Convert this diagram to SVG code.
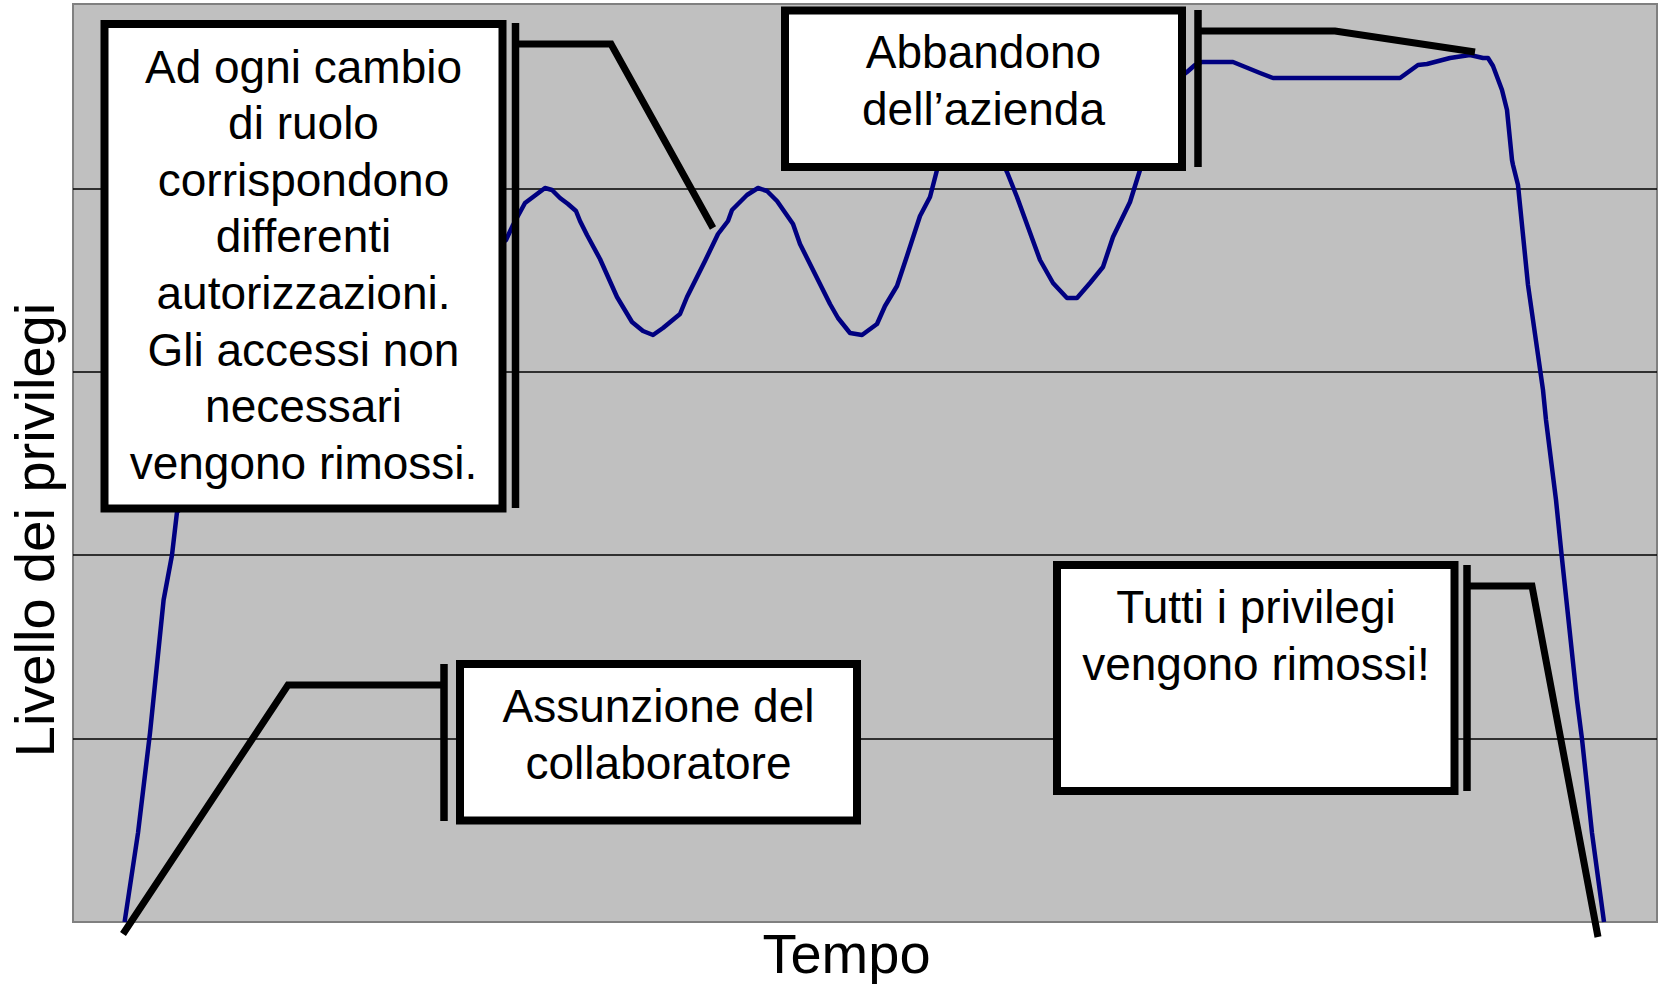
<svg xmlns="http://www.w3.org/2000/svg" width="1663" height="984" viewBox="0 0 1663 984">
<style>
.lbl{font-family:"Liberation Sans",Arial,sans-serif;font-size:46px;fill:#000;text-anchor:middle}
.axis{font-family:"Liberation Sans",Arial,sans-serif;font-size:56px;fill:#000;text-anchor:middle}
.box{fill:#fff;stroke:#000;stroke-width:8}
.bar{stroke:#000;stroke-width:7.5;fill:none}
.lead{stroke:#000;stroke-width:7;fill:none;stroke-linejoin:miter}
.grid{stroke:#000;stroke-width:1.5}
.curve{fill:none;stroke:#000080;stroke-width:4.5;stroke-linejoin:round}
</style>
<rect width="1663" height="984" fill="#fff"/>
<g id="plot">
<rect x="73" y="4" width="1584" height="918" fill="#c0c0c0" stroke="#808080" stroke-width="2"/>
<line class="grid" x1="73" y1="189" x2="1657" y2="189"/>
<line class="grid" x1="73" y1="372" x2="1657" y2="372"/>
<line class="grid" x1="73" y1="555" x2="1657" y2="555"/>
<line class="grid" x1="73" y1="739" x2="1657" y2="739"/>
<polyline class="curve" stroke-width="3" points="124.6,922 138,833 150,733 163.6,600 172,555 177,512 300,400"/>
<polyline class="curve" points="300,400 506,240 513,225 525,203 533,197 545,188 552,190 560,198 568,204 576,211 580,221 587,235 600,259 617,297 632,322 643,331 653,335 663,328 680,314 687,297 705,261 718,234 728,221 732,210 747,195 758,188 767,191 777,201 793,224 800,244 813,270 830,304 838,318 850,333 862,335 877,324 885,306 897,286 907,256 920,216 930,197 937,170 970,90 1007,172 1017,197 1040,260 1053,283 1067,298 1077,298 1090,283 1103,267 1113,237 1130,202 1140,170 1170,85 1187,72 1195,65 1202,62 1233,62 1260,73 1273,78 1400,78 1418,65 1427,64 1450,58 1470,55 1483,58 1488,58 1493,66 1502,90 1507,110 1512,160 1513,165 1518,185 1528,285 1543,390 1546,420 1556,500 1561.5,554 1577,700 1582,739 1592,833 1604,922"/>
</g>
<g id="axes">
<text class="axis" x="846.5" y="973" font-size="55">Tempo</text>
<text class="axis" transform="translate(54,530) rotate(-90)" x="0" y="0">Livello dei privilegi</text>
</g>
<g id="connectors">
<polyline class="lead" points="123,934 288,685 444,685"/>
<line class="bar" x1="444" y1="664" x2="444" y2="821"/>
<polyline class="lead" points="515.5,44 611,44 713,228"/>
<line class="bar" x1="515.5" y1="23" x2="515.5" y2="508"/>
<polyline class="lead" points="1198,31 1335,31 1475,52"/>
<line class="bar" x1="1198" y1="10" x2="1198" y2="167"/>
<polyline class="lead" points="1467,586 1532,586 1598,937"/>
<line class="bar" x1="1467" y1="565" x2="1467" y2="791"/>
</g>
<g id="box-ruolo">
<rect class="box" x="104.5" y="24" width="398" height="484.5"/>
<text class="lbl" x="303.5" y="82.5">Ad ogni cambio</text>
<text class="lbl" x="303.5" y="139.1">di ruolo</text>
<text class="lbl" x="303.5" y="195.7">corrispondono</text>
<text class="lbl" x="303.5" y="252.3">differenti</text>
<text class="lbl" x="303.5" y="308.9">autorizzazioni.</text>
<text class="lbl" x="303.5" y="365.5">Gli accessi non</text>
<text class="lbl" x="303.5" y="422.1">necessari</text>
<text class="lbl" x="303.5" y="478.7">vengono rimossi.</text>
</g>
<g id="box-abbandono">
<rect class="box" x="785" y="10.5" width="397" height="156.5"/>
<text class="lbl" x="983.5" y="68">Abbandono</text>
<text class="lbl" x="983.5" y="124.5">dell’azienda</text>
</g>
<g id="box-assunzione">
<rect class="box" x="460" y="664" width="397" height="156.5"/>
<text class="lbl" x="658.5" y="722">Assunzione del</text>
<text class="lbl" x="658.5" y="779">collaboratore</text>
</g>
<g id="box-rimossi">
<rect class="box" x="1057" y="565" width="397.5" height="226"/>
<text class="lbl" x="1256" y="623">Tutti i privilegi</text>
<text class="lbl" x="1256" y="680">vengono rimossi!</text>
</g>
</svg>
